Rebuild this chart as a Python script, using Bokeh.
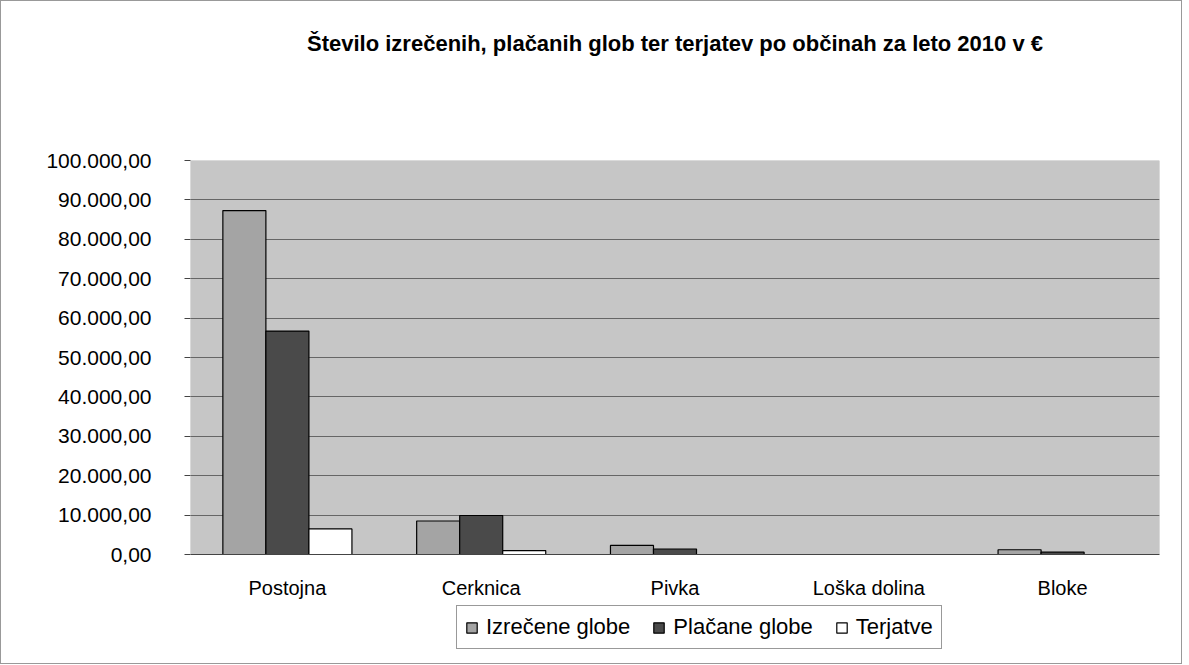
from bokeh.plotting import figure
from bokeh.models import (ColumnDataSource, FactorRange, Range1d, CustomJSTickFormatter, Legend,
                          LegendItem, FixedTicker, Title, BoxAnnotation)
from bokeh.transform import dodge
from bokeh.embed import file_html
from bokeh.resources import INLINE

categories = ["Postojna", "Cerknica", "Pivka", "Loška dolina", "Bloke"]
izrecene = [87300, 8500, 2300, 0, 1200]
placane = [56700, 9900, 1400, 0, 600]
terjatve = [6500, 1000, 0, 0, 0]
series_names = ["Izrečene globe", "Plačane globe", "Terjatve"]
y_ticks = [0, 10000, 20000, 30000, 40000, 50000, 60000, 70000, 80000, 90000, 100000]
title_text = "Število izrečenih, plačanih glob ter terjatev po občinah za leto 2010 v €"
y_max = 100000

FONT = "Liberation Sans"

# plot area of 394 px for 0..y_max, plus 106 px below it for category labels and legend
area_px = 394
extra_px = 106
y_start = -y_max * extra_px / area_px

src = ColumnDataSource(dict(cat=categories, iz=izrecene, pl=placane, te=terjatve))

p = figure(frame_width=969, frame_height=area_px + extra_px,
           x_range=FactorRange(*categories, range_padding=0),
           y_range=Range1d(y_start, y_max), output_backend="svg", toolbar_location=None, title=None,
           min_border_left=189, min_border_right=22, min_border_top=0, min_border_bottom=3)

p.background_fill_color = "white"
p.border_fill_color = "white"
p.outline_line_color = None
p.styles = {"border": "1px solid #999999"}

plot_area = BoxAnnotation(bottom=0, top=y_max, fill_color="#c6c6c6", fill_alpha=1.0,
                          line_color="#555555", line_width=1, level="image")
p.add_layout(plot_area)

bw = 0.222
r1 = p.vbar(x=dodge("cat", -bw, range=p.x_range), top="iz", width=bw, source=src,
            fill_color="#a4a4a4", line_color="black", line_width=1.2)
r2 = p.vbar(x=dodge("cat", 0, range=p.x_range), top="pl", width=bw, source=src,
            fill_color="#4a4a4a", line_color="black", line_width=1.2)
r3 = p.vbar(x=dodge("cat", bw, range=p.x_range), top="te", width=bw, source=src,
            fill_color="white", line_color="black", line_width=1.2)

# spacer panel between title and frame, then the title itself
p.add_layout(Title(text=" ", text_font_size="10px", standoff=61), "above")
p.add_layout(Title(text=title_text, align="center", vertical_align="top",
                   text_font=FONT, text_font_size="22px", text_font_style="bold",
                   text_color="black", standoff=58), "above")

p.xgrid.grid_line_color = None
p.ygrid.grid_line_color = "#666666"
p.ygrid.grid_line_width = 1
p.ygrid.ticker = FixedTicker(ticks=y_ticks)

p.yaxis.ticker = FixedTicker(ticks=y_ticks)
p.yaxis.formatter = CustomJSTickFormatter(code="""
var s = tick.toFixed(2); var parts = s.split('.');
var i = parts[0].replace(/\\B(?=(\\d{3})+(?!\\d))/g, '.');
return i + ',' + parts[1];
""")
p.yaxis.major_label_text_font = FONT
p.yaxis.major_label_text_font_size = "21px"
p.yaxis.major_label_text_color = "black"
p.yaxis.major_tick_out = 6
p.yaxis.major_tick_in = 0
p.yaxis.minor_tick_line_color = None
p.yaxis.major_label_standoff = 33
p.yaxis.axis_line_color = None
p.yaxis.major_tick_line_color = "#444444"

p.xaxis.fixed_location = 0
p.xaxis.major_label_text_font = FONT
p.xaxis.major_label_text_font_size = "20px"
p.xaxis.major_label_text_color = "black"
p.xaxis.major_tick_line_color = None
p.xaxis.major_label_standoff = 16
p.xaxis.axis_line_color = "#444444"

legend = Legend(items=[LegendItem(label=series_names[0], renderers=[r1]),
                       LegendItem(label=series_names[1], renderers=[r2]),
                       LegendItem(label=series_names[2], renderers=[r3])],
                orientation="horizontal", location=(266, 11))
legend.label_text_font = FONT
legend.label_text_font_size = "22px"
legend.label_text_color = "black"
legend.glyph_width = 13
legend.glyph_height = 13
legend.label_standoff = 8
legend.spacing = 22
legend.padding = 8
legend.margin = 0
legend.border_line_color = "#333333"
legend.border_line_width = 1
legend.background_fill_color = "white"
p.add_layout(legend)

open("out.html", "w").write(file_html(p, INLINE))
